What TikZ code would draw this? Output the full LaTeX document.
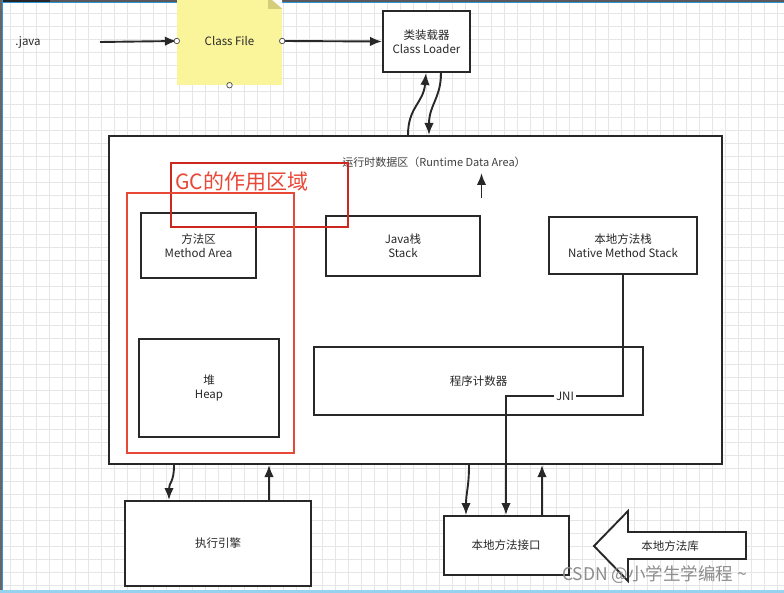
\documentclass[tikz,border=0pt]{standalone}
\usepackage{fontspec}
\setmainfont{Noto Sans CJK SC}
\usetikzlibrary{arrows.meta}
\definecolor{notecol}{RGB}{250,244,155}
\definecolor{foldcol}{RGB}{212,205,122}
\definecolor{gcred}{RGB}{232,72,56}
\definecolor{gcdark}{RGB}{206,40,30}
\definecolor{gridcol}{RGB}{230,230,230}
\definecolor{edgeblue}{RGB}{52,146,214}
\definecolor{edgelight}{RGB}{150,210,240}
\definecolor{inkcol}{RGB}{40,40,40}

\begin{document}
\begin{tikzpicture}[x=1pt,y=-1pt,
  every node/.style={font=\fontsize{11.5}{14}\selectfont, text=inkcol, align=center},
  box/.style={draw=inkcol, line width=2pt, inner sep=0pt, fill=white},
  arr/.style={draw=inkcol, line width=1.9pt, -{Latex[length=12pt,width=9.5pt]}},
  wire/.style={draw=inkcol, line width=1.9pt},
  port/.style={circle, draw=black!65, fill=white, inner sep=0pt, minimum size=5.5pt, line width=0.8pt}]
  \useasboundingbox (0,0) rectangle (784,593);
  \fill[white] (0,0) rectangle (784,593);
  % grid
  \foreach \gx in {10,23,...,784} \draw[gridcol, line width=0.9pt] (\gx,0) -- (\gx,593);
  \foreach \gy in {0,13,...,593} \draw[gridcol, line width=0.9pt] (0,\gy) -- (784,\gy);
  % screen edges
  \fill[black!65] (0,0) rectangle (784,2.5);
  \fill[black!85] (0,0) rectangle (50,2.5);
  \fill[edgeblue] (0,2.5) rectangle (784,3.5);
  \fill[black!60] (0,0) rectangle (1.5,593);
  \fill[edgeblue] (1.5,0) rectangle (3,593);
  \fill[edgelight] (0,590) rectangle (784,593);

  % class file and loader
  \node (java) at (28,42) {.java};
  \coordinate (javaend) at (100,42);
  \node[fill=notecol, minimum width=105pt, minimum height=88pt, inner sep=0pt] (classfile) at (229.5,41) {Class File};
  \fill[white] ([xshift=-14pt]classfile.north east) -- (classfile.north east) -- ([yshift=-12pt]classfile.north east) -- cycle;
  \fill[foldcol] ([xshift=-14pt]classfile.north east) -- ([xshift=-14pt,yshift=-12pt]classfile.north east) -- ([yshift=-12pt]classfile.north east) -- cycle;
  \node[box, minimum width=87pt, minimum height=61pt] (loader) at (426.5,41.5) {类装载器\\Class Loader};
  \draw[arr] (javaend) -- (classfile.west);
  \draw[arr] (classfile.east) -- (loader.west);
  \foreach \p in {west,east,south,north} \node[port] at (classfile.\p) {};

  % runtime data area
  \node[box, minimum width=613pt, minimum height=328pt] (rt) at (415.5,300) {};
  \node[font=\fontsize{11}{13}\selectfont, text=black!75] (rttitle) at (434,162) {运行时数据区（Runtime Data Area）};
  \coordinate (upfoot) at (481.5,198);
  \draw[arr] (upfoot) -- ++(0,-25);
  \node[box, minimum width=115pt, minimum height=65pt] (method) at (198.5,245.5) {方法区\\Method Area};
  \node[box, minimum width=154pt, minimum height=60pt] (stack) at (403,246) {Java栈\\Stack};
  \node[box, minimum width=148pt, minimum height=57pt] (native) at (623,245.5) {本地方法栈\\Native Method Stack};
  \node[box, minimum width=140pt, minimum height=98pt] (heap) at (209,388) {堆\\Heap};
  \node[box, minimum width=329pt, minimum height=68pt] (pc) at (478.5,381) {程序计数器};

  % GC zone
  \draw[gcdark, line width=1.5pt] (171,163) rectangle (348,227);
  \draw[gcred, line width=2.2pt] (127,193) rectangle (294,453);
  \node[text=gcred, font=\fontsize{21}{24}\selectfont, anchor=west, inner sep=0pt] (gctitle) at (175,182) {GC的作用区域};

  % loader <-> runtime
  \draw[arr] ([xshift=-7.5pt]rt.north) .. controls ([xshift=-7.5pt,yshift=28pt]rt.north) and ([xshift=-3pt,yshift=-30pt]loader.south) .. ([xshift=-0.5pt]loader.south);
  \draw[arr] ([xshift=14.5pt]loader.south) .. controls ([xshift=14.5pt,yshift=-25pt]loader.south) and ([xshift=13.5pt,yshift=30pt]rt.north) .. ([xshift=13.5pt]rt.north);

  % bottom blocks
  \node[box, minimum width=186pt, minimum height=85pt] (engine) at (218,543.5) {执行引擎};
  \node[box, minimum width=125pt, minimum height=59pt] (nif) at (506,545.5) {本地方法接口};
  \draw[arr] ([xshift=-241.5pt]rt.south) .. controls ([xshift=-241.5pt,yshift=-18pt]rt.south) and ([xshift=-49pt,yshift=18pt]engine.north) .. ([xshift=-49pt]engine.north);
  \draw[arr] ([xshift=51pt]engine.north) -- ([xshift=-146.5pt]rt.south);
  \draw[arr] ([xshift=53.5pt]rt.south) .. controls ([xshift=53.5pt,yshift=-22pt]rt.south) and ([xshift=-40pt,yshift=22pt]nif.north) .. ([xshift=-40pt]nif.north);
  \draw[arr] ([xshift=36pt]nif.north) -- ([xshift=126.5pt]rt.south);

  % JNI
  \node[inner sep=2pt] (jni) at (565,396) {JNI};
  \draw[wire] (native.south) |- (jni.east);
  \draw[arr] (jni.west) -| (nif.north);

  % native library
  \draw[wire, fill=white] (594,546) -- (628,511) -- (628,532) -- (746,532) -- (746,559) -- (628,559) -- (628,581) -- cycle;
  \node (nlib) at (670,546) {本地方法库};

  % watermark
  \node[text=black!45, font=\fontsize{17.5}{20}\selectfont, anchor=west, inner sep=0pt] (mark) at (562,575) {CSDN @小学生学编程 \textasciitilde};
\end{tikzpicture}
\end{document}
